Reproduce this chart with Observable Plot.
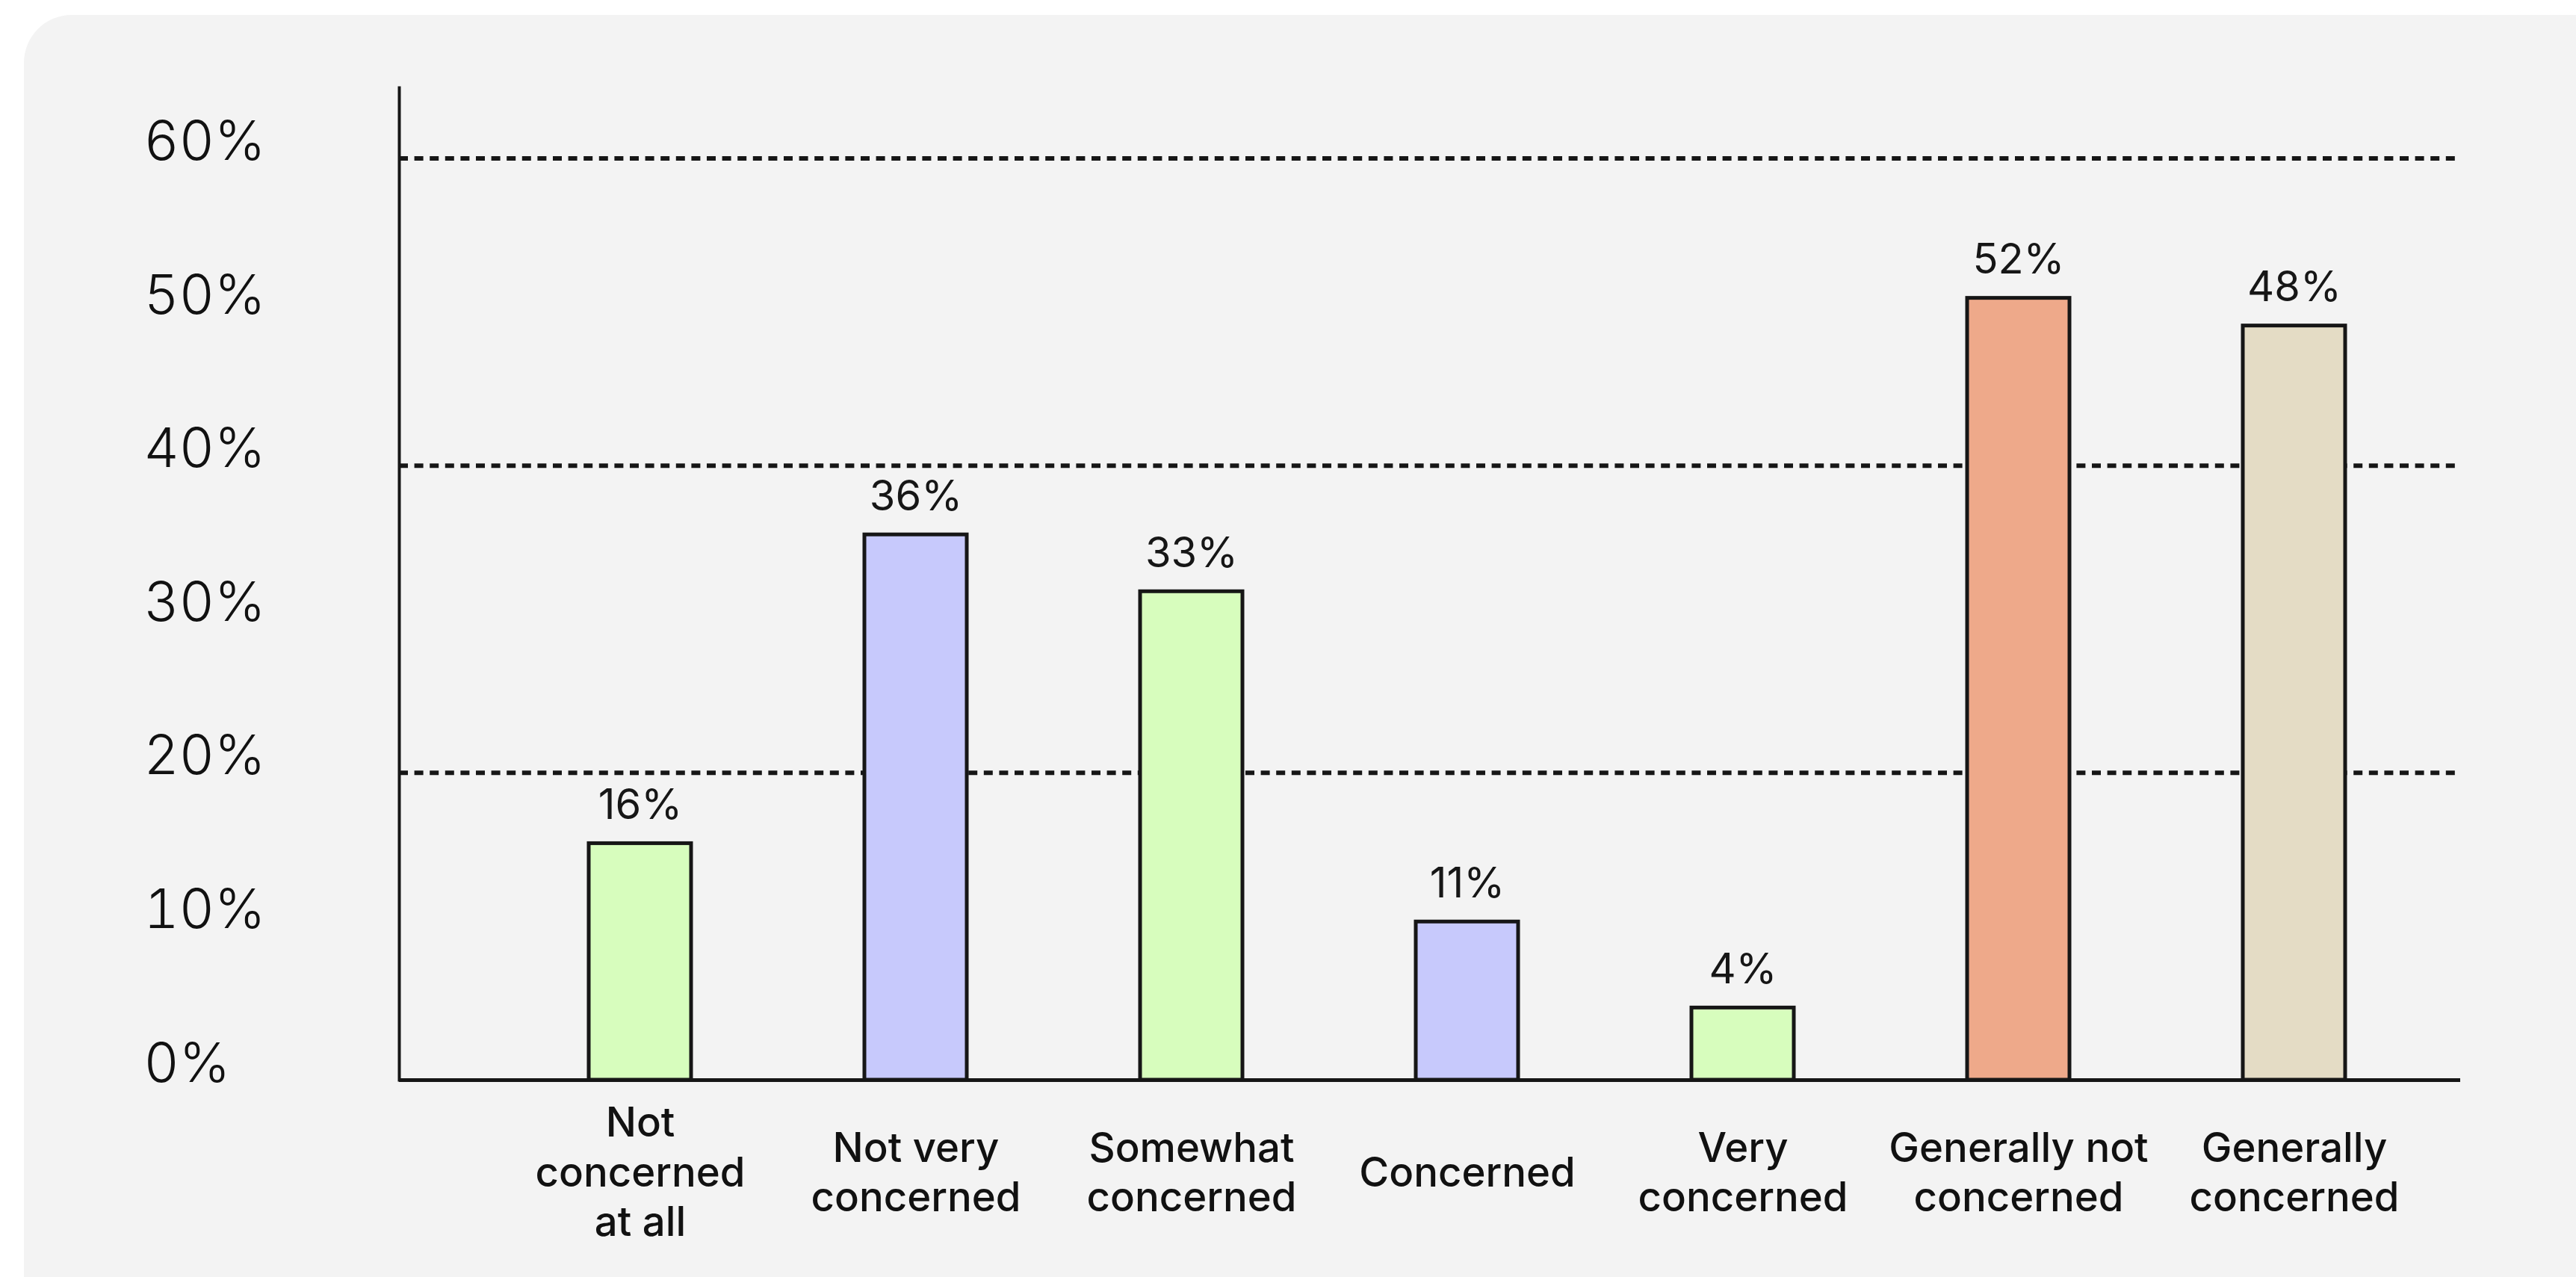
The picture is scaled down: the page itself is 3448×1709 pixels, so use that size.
<!DOCTYPE html>
<html>
<head>
<meta charset="utf-8">
<script src="https://cdn.jsdelivr.net/npm/d3@7"></script>
<script src="https://cdn.jsdelivr.net/npm/@observablehq/plot@0.6"></script>
<style>
  html, body { margin: 0; padding: 0; background: #ffffff; overflow: hidden; }
  #wrap { position: relative; width: 3448px; height: 1709px; }
  #card { position: absolute; left: 32px; top: 20px; width: 3480px; height: 1760px; border-radius: 64px; background: #f3f3f3; }
  #chart { position: absolute; left: 0; top: 0; }
</style>
</head>
<body>
<div id="wrap">
  <div id="card"></div>
  <div id="chart"></div>
</div>
<script>
const categories = ["Not\nconcerned\nat all", "Not very\nconcerned", "Somewhat\nconcerned", "Concerned", "Very\nconcerned", "Generally not\nconcerned", "Generally\nconcerned"];
const percentLabels = [16, 36, 33, 11, 4, 52, 48];
const barHeights = [15.4, 35.5, 31.8, 10.3, 4.7, 50.9, 49.1];
const barColors = ["#d7fdbd", "#c7c9fc", "#d7fdbd", "#c7c9fc", "#d7fdbd", "#eea98a", "#e4dcc5"];
const yTicks = [0, 10, 20, 30, 40, 50, 60];
const gridValues = [20, 40, 60];

const data = categories.map((c, i) => ({
  category: c,
  value: barHeights[i],
  label: percentLabels[i] + "%",
  color: barColors[i]
}));

const ink = "#161616";

const chart = Plot.plot({
  width: 3448,
  height: 1709,
  marginTop: 117,
  marginBottom: 264,
  marginLeft: 534,
  marginRight: 155,
  style: { background: "transparent", fontFamily: "Inter, 'Noto Sans', sans-serif", overflow: "visible" },
  x: { domain: categories, range: [671.5, 3254.5], paddingInner: 0.63, paddingOuter: 0.315, align: 0.5 },
  y: { domain: [0, 64.6] },
  color: { type: "identity" },
  marks: [
    Plot.ruleY(gridValues, { stroke: ink, strokeWidth: 6, strokeDasharray: "12,8.6" }),
    Plot.barY(data, { x: "category", y: "value", fill: "color", stroke: ink, strokeWidth: 5 }),
    Plot.text(data, { x: "category", y: "value", text: "label", lineAnchor: "bottom", dy: -33, fontSize: 56, fill: ink }),
    Plot.ruleY([0], { stroke: ink, strokeWidth: 5 }),
    Plot.frame({ anchor: "left", stroke: ink, strokeWidth: 4 }),
    Plot.axisY(yTicks, { tickSize: 0, tickPadding: 342, textAnchor: "start", lineAnchor: "bottom", dy: 2, tickFormat: d => d + "%", fontSize: 73, fontWeight: 300, fill: "#111", label: null }),
    Plot.axisX({ tickSize: 0, tickPadding: 121, lineAnchor: "middle", lineHeight: 1.22, fontSize: 54.5, fontWeight: 500, fill: "#111", label: null })
  ]
});

document.getElementById("chart").appendChild(chart);
</script>
</body>
</html>
